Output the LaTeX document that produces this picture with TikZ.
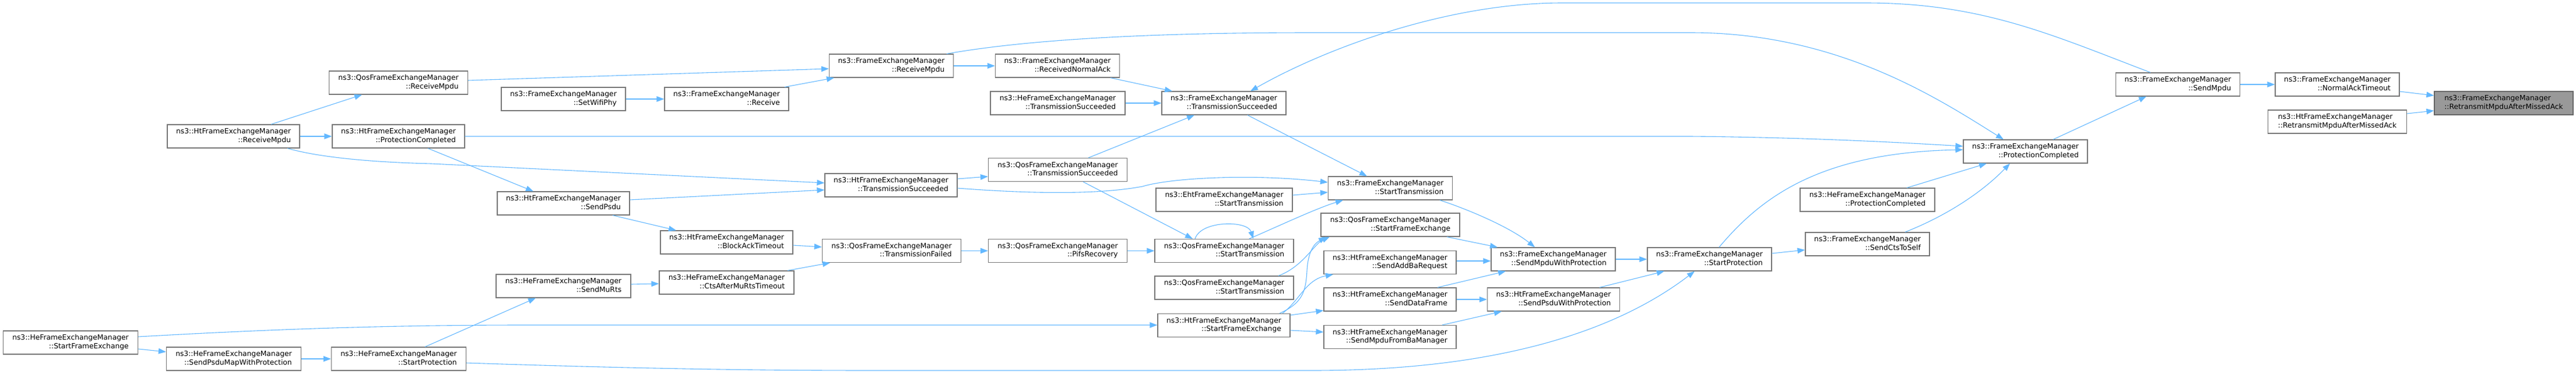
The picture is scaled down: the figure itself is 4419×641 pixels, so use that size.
\documentclass[tikz,border=0pt]{standalone}
\usepackage{fontspec}
\newfontfamily\dvs{DejaVu Sans}
\usetikzlibrary{arrows.meta}
\definecolor{edgec}{HTML}{63B8FF}
\definecolor{bordc}{HTML}{777777}
\definecolor{tbord}{HTML}{666666}
\definecolor{tfill}{HTML}{999999}
\newcommand{\twol}[2]{\begin{tabular}{@{}l@{}}#1\\\hfill#2\hfill\end{tabular}}
\tikzset{
  box/.style={draw=bordc, line width=1.2pt, fill=white, inner sep=0pt, minimum height=40pt,
    font=\dvs\fontsize{12.3pt}{14.3pt}\selectfont},
  wFEM/.style={box, minimum width=213pt},
  wHt/.style={box, minimum width=227pt},
  wHe/.style={box, minimum width=231pt},
  wQos/.style={box, minimum width=238pt},
  wEht/.style={box, minimum width=234pt},
  tgt/.style={box, minimum width=238pt, draw=tbord, fill=tfill},
  cedge/.style={draw=edgec, line width=1.1pt, -{Triangle[length=13pt,width=9.5pt]}}
}
\begin{document}
\begin{tikzpicture}[x=1pt,y=-1pt]
\fill[white] (0,0) rectangle (4419,641);
\useasboundingbox (0,0) rectangle (4419,641);
% nodes
\node[wQos] (qosRecv) at (683.5,142) {\twol{ns3::QosFrameExchangeManager}{::ReceiveMpdu}};
\node[wHt] (htRecv) at (400.5,234) {\twol{ns3::HtFrameExchangeManager}{::ReceiveMpdu}};
\node[wHt] (htPC) at (683.5,234) {\twol{ns3::HtFrameExchangeManager}{::ProtectionCompleted}};
\node[wHe] (heSFE) at (121,588) {\twol{ns3::HeFrameExchangeManager}{::StartFrameExchange}};
\node[wHe] (heSPM) at (401,616) {\twol{ns3::HeFrameExchangeManager}{::SendPsduMapWithProtection}};
\node[wHe] (heSP) at (684,616) {\twol{ns3::HeFrameExchangeManager}{::StartProtection}};
\node[wFEM] (setWifi) at (966.5,170) {\twol{ns3::FrameExchangeManager}{::SetWifiPhy}};
\node[wFEM] (recv) at (1246.5,170) {\twol{ns3::FrameExchangeManager}{::Receive}};
\node[wFEM] (femRecvMpdu) at (1529,113) {\twol{ns3::FrameExchangeManager}{::ReceiveMpdu}};
\node[wHt] (sendPsdu) at (966.5,349) {\twol{ns3::HtFrameExchangeManager}{::SendPsdu}};
\node[wHt] (htTS) at (1528.5,318) {\twol{ns3::HtFrameExchangeManager}{::TransmissionSucceeded}};
\node[wHt] (baTO) at (1246.5,416) {\twol{ns3::HtFrameExchangeManager}{::BlockAckTimeout}};
\node[wQos] (qosTF) at (1529.5,430.5) {\twol{ns3::QosFrameExchangeManager}{::TransmissionFailed}};
\node[wHe] (muRts) at (966.5,491) {\twol{ns3::HeFrameExchangeManager}{::SendMuRts}};
\node[wHe] (ctsTO) at (1246.5,485) {\twol{ns3::HeFrameExchangeManager}{::CtsAfterMuRtsTimeout}};
\node[wFEM] (rna) at (1814,113) {\twol{ns3::FrameExchangeManager}{::ReceivedNormalAck}};
\node[wHe] (heTS) at (1814.5,177) {\twol{ns3::HeFrameExchangeManager}{::TransmissionSucceeded}};
\node[wFEM] (femTS) at (2099.5,177) {\twol{ns3::FrameExchangeManager}{::TransmissionSucceeded}};
\node[wQos] (qosTS) at (1814.5,291.5) {\twol{ns3::QosFrameExchangeManager}{::TransmissionSucceeded}};
\node[wEht] (ehtST) at (2100,343) {\twol{ns3::EhtFrameExchangeManager}{::StartTransmission}};
\node[wQos] (pifs) at (1814.5,430.5) {\twol{ns3::QosFrameExchangeManager}{::PifsRecovery}};
\node[wQos] (qosST1) at (2100,430.5) {\twol{ns3::QosFrameExchangeManager}{::StartTransmission}};
\node[wQos] (qosST2) at (2100,494) {\twol{ns3::QosFrameExchangeManager}{::StartTransmission}};
\node[wHt] (htSFE) at (2099.5,558.5) {\twol{ns3::HtFrameExchangeManager}{::StartFrameExchange}};
\node[wFEM] (femST) at (2385,323) {\twol{ns3::FrameExchangeManager}{::StartTransmission}};
\node[wQos] (qosSFE) at (2385,386) {\twol{ns3::QosFrameExchangeManager}{::StartFrameExchange}};
\node[wHt] (addBa) at (2384.5,450.5) {\twol{ns3::HtFrameExchangeManager}{::SendAddBaRequest}};
\node[wHt] (dataF) at (2384.5,514) {\twol{ns3::HtFrameExchangeManager}{::SendDataFrame}};
\node[wHt] (baMgr) at (2384.5,578.5) {\twol{ns3::HtFrameExchangeManager}{::SendMpduFromBaManager}};
\node[wFEM] (mpduWP) at (2664.5,445) {\twol{ns3::FrameExchangeManager}{::SendMpduWithProtection}};
\node[wHt] (psduWP) at (2665,514) {\twol{ns3::HtFrameExchangeManager}{::SendPsduWithProtection}};
\node[wFEM] (femSP) at (2932.5,445) {\twol{ns3::FrameExchangeManager}{::StartProtection}};
\node[wFEM] (femPC) at (3474.5,260) {\twol{ns3::FrameExchangeManager}{::ProtectionCompleted}};
\node[wHe] (hePC) at (3203.5,343) {\twol{ns3::HeFrameExchangeManager}{::ProtectionCompleted}};
\node[wFEM] (cts) at (3203.5,419) {\twol{ns3::FrameExchangeManager}{::SendCtsToSelf}};
\node[wFEM] (sendMpdu) at (3736,145) {\twol{ns3::FrameExchangeManager}{::SendMpdu}};
\node[wFEM] (naTO) at (4009.5,145) {\twol{ns3::FrameExchangeManager}{::NormalAckTimeout}};
\node[wQos] (htRetr) at (4009.5,209) {\twol{ns3::HtFrameExchangeManager}{::RetransmitMpduAfterMissedAck}};
\node[tgt] (target) at (4295,177) {\twol{ns3::FrameExchangeManager}{::RetransmitMpduAfterMissedAck}};
% edges
\draw[cedge] (naTO.east |- 0,157) -- (target.west |- 0,164);
\draw[cedge] (htRetr.east |- 0,195) -- (target.west |- 0,190);
\draw[cedge] (sendMpdu.east) -- (naTO.west);
\draw[cedge] (3522,0 |- femPC.north) -- (3682,0 |- sendMpdu.south);
\draw[cedge] (3689,0 |- sendMpdu.north) .. controls (3520,60) and (3400,5) .. (3200,5) -- (2680,5) .. controls (2480,5) and (2270,85) .. (2145,0 |- femTS.north);
\draw[cedge] (1624,0 |- femRecvMpdu.north) .. controls (1750,70) and (1950,56) .. (2250,56) -- (2900,56) .. controls (3150,56) and (3320,166) .. (3437,0 |- femPC.north);
\draw[cedge] (htPC.east) -- (2900,234) .. controls (3100,236) and (3250,244) .. (femPC.west |- 0,251);
\draw[cedge] (2949,0 |- femSP.north) .. controls (3020,340) and (3120,262) .. (femPC.west |- 0,257);
\draw[cedge] (3271,0 |- hePC.north) -- (3408,0 |- femPC.south);
\draw[cedge] (3268,0 |- cts.north) .. controls (3340,370) and (3400,330) .. (3448,0 |- femPC.south);
\draw[cedge] (femSP.east |- 0,435) -- (cts.west |- 0,429);
\draw[cedge] (mpduWP.east) -- (femSP.west);
\draw[cedge] (2744,0 |- psduWP.north) -- (2855,0 |- femSP.south);
\draw[cedge] (heSP.east |- 0,623) .. controls (1100,633) and (1300,636) .. (1500,636) -- (2250,636) .. controls (2600,636) and (2790,555) .. (2907,0 |- femSP.south);
\draw[cedge] (2470,0 |- femST.south) .. controls (2520,360) and (2590,390) .. (2633,0 |- mpduWP.north);
\draw[cedge] (2482,0 |- qosSFE.south) -- (2569,0 |- mpduWP.north);
\draw[cedge] (addBa.east |- 0,448) -- (mpduWP.west |- 0,448);
\draw[cedge] (2466,0 |- dataF.north) -- (2583,0 |- mpduWP.south);
\draw[cedge] (dataF.east) -- (psduWP.west);
\draw[cedge] (2474,0 |- baMgr.north) -- (2576,0 |- psduWP.south);
\draw[cedge] (2140,0 |- femTS.south) -- (2345,0 |- femST.north);
\draw[cedge] (htTS.east |- 0,323) .. controls (1760,332) and (1880,335) .. (1960,320) .. controls (2010,305) and (2150,298) .. (femST.west |- 0,313);
\draw[cedge] (ehtST.east |- 0,335) -- (femST.west |- 0,330);
\draw[cedge] (2143,0 |- qosST1.north) .. controls (2200,385) and (2260,357) .. (2304,0 |- femST.south);
\draw[cedge] (2050,0 |- qosST1.north) .. controls (2060,378) and (2140,378) .. (2150,0 |- qosST1.north);
\draw[cedge] (1858,0 |- qosTS.south) -- (2046,0 |- qosST1.north);
\draw[cedge] (1867,0 |- qosTS.north) -- (2049,0 |- femTS.south);
\draw[cedge] (heTS.east) -- (femTS.west);
\draw[cedge] (1905,0 |- rna.south) -- (2011,0 |- femTS.north);
\draw[cedge] (femRecvMpdu.east) -- (rna.west);
\draw[cedge] (pifs.east) -- (qosST1.west);
\draw[cedge] (qosTF.east) -- (pifs.west);
\draw[cedge] (htTS.east |- 0,307) -- (qosTS.west |- 0,303);
\draw[cedge] (heSFE.east |- 0,578) .. controls (450,566) and (650,558) .. (900,558) -- (htSFE.west |- 0,558);
\draw[cedge] (2195,0 |- htSFE.north) .. controls (2235,520) and (2240,500) .. (2242,465) .. controls (2244,430) and (2255,418) .. (2275,0 |- qosSFE.south);
\draw[cedge] (2200,0 |- htSFE.north) .. controls (2230,515) and (2240,480) .. (2287,0 |- addBa.south);
\draw[cedge] (htSFE.east |- 0,541) -- (dataF.west |- 0,533);
\draw[cedge] (htSFE.east |- 0,567) -- (baMgr.west |- 0,570);
\draw[cedge] (2193,0 |- qosST2.north) .. controls (2235,458) and (2255,418) .. (2281,0 |- qosSFE.south);
\draw[cedge] (qosRecv.east |- 0,138) -- (femRecvMpdu.west |- 0,118);
\draw[cedge] (1346,0 |- recv.north) -- (1431,0 |- femRecvMpdu.south);
\draw[cedge] (setWifi.east) -- (recv.west);
\draw[cedge] (465,0 |- htRecv.north) -- (621,0 |- qosRecv.south);
\draw[cedge] (htRecv.east) -- (htPC.west);
\draw[cedge] (493,0 |- htRecv.south) .. controls (540,268) and (620,278) .. (740,281) -- (htTS.west |- 0,314);
\draw[cedge] (734,0 |- htPC.south) -- (915,0 |- sendPsdu.north);
\draw[cedge] (sendPsdu.east |- 0,343) -- (htTS.west |- 0,326);
\draw[cedge] (1051,0 |- sendPsdu.south) -- (1160,0 |- baTO.north);
\draw[cedge] (baTO.east |- 0,421) -- (qosTF.west |- 0,424);
\draw[cedge] (1351,0 |- ctsTO.north) -- (1424,0 |- qosTF.south);
\draw[cedge] (muRts.east |- 0,488) -- (ctsTO.west |- 0,487);
\draw[cedge] (729,0 |- heSP.north) -- (919,0 |- muRts.south);
\draw[cedge] (heSFE.east |- 0,599) -- (heSPM.west |- 0,604);
\draw[cedge] (heSPM.east) -- (heSP.west);
\end{tikzpicture}
\end{document}
